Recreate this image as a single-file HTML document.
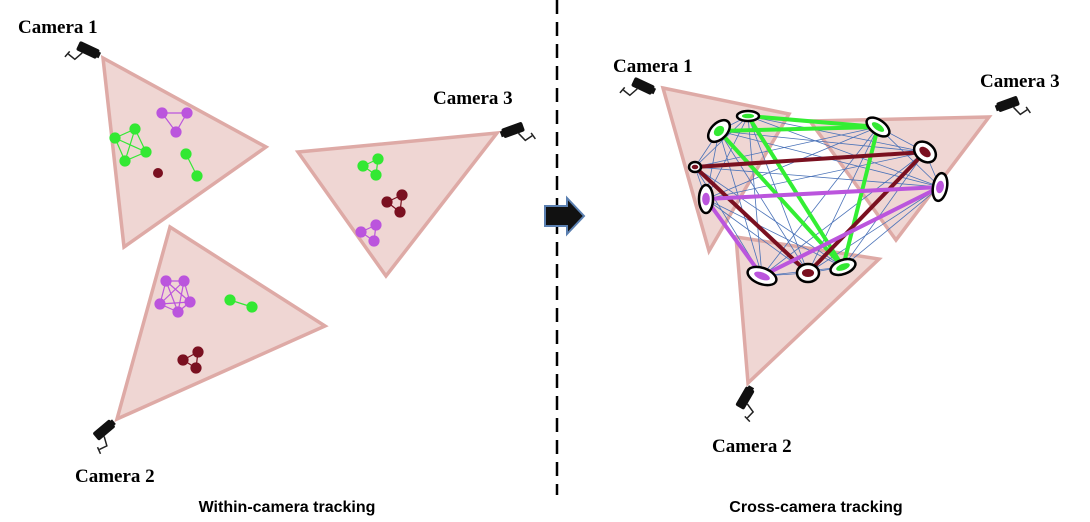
<!DOCTYPE html>
<html><head><meta charset="utf-8"><style>
body{margin:0;background:#fff;}
svg{display:block;}
.cam{font-family:"Liberation Serif",serif;font-weight:bold;font-size:19px;fill:#000;}
.cap{font-family:"Liberation Sans",sans-serif;font-weight:bold;font-size:16px;fill:#000;}
.tri{fill:#efd6d3;stroke:#deaaa6;stroke-width:3.5;stroke-linejoin:miter;}
</style></head><body>
<svg width="1090" height="522" viewBox="0 0 1090 522">
<defs>
<g id="camicon">
<rect x="-11" y="-5" width="22" height="10" rx="2" fill="#111"/>
<rect x="9" y="-3" width="4" height="6" fill="#111"/>
<path d="M-4 5 L-8 14 L-16 12 M-16 9 L-18 16" stroke="#222" stroke-width="1.5" fill="none"/>
</g>
</defs>

<g>
<polygon class="tri" points="103,58 266,147 124,247"/>
<polygon class="tri" points="298,152 497,133 386,276"/>
<polygon class="tri" points="170,227 325,326 117,419"/>
<g transform="translate(88,50) rotate(25)"><use href="#camicon"/></g>
<g transform="translate(513,130) rotate(-20) scale(-1,1)"><use href="#camicon"/></g>
<g transform="translate(104,430) rotate(-40)"><use href="#camicon"/></g>
<text class="cam" x="18" y="33">Camera 1</text>
<text class="cam" x="433" y="104">Camera 3</text>
<text class="cam" x="75" y="482">Camera 2</text>
<g stroke-width="1.2">
<g stroke="#33e833" fill="#33e833">
<line x1="115" y1="138" x2="135" y2="129"/><line x1="115" y1="138" x2="125" y2="161"/><line x1="115" y1="138" x2="146" y2="152"/><line x1="135" y1="129" x2="125" y2="161"/><line x1="135" y1="129" x2="146" y2="152"/><line x1="125" y1="161" x2="146" y2="152"/>
<circle cx="115" cy="138" r="5"/><circle cx="135" cy="129" r="5"/><circle cx="125" cy="161" r="5"/><circle cx="146" cy="152" r="5"/>
<line x1="186" y1="154" x2="197" y2="176"/><circle cx="186" cy="154" r="5"/><circle cx="197" cy="176" r="5"/>
</g>
<g stroke="#bb55dd" fill="#bb55dd">
<line x1="162" y1="113" x2="187" y2="113"/><line x1="162" y1="113" x2="176" y2="132"/><line x1="187" y1="113" x2="176" y2="132"/>
<circle cx="162" cy="113" r="5"/><circle cx="187" cy="113" r="5"/><circle cx="176" cy="132" r="5"/>
</g>
<circle cx="158" cy="173" r="5" fill="#7a1020"/>
<g stroke="#33e833" fill="#33e833">
<line x1="363" y1="166" x2="378" y2="159"/><line x1="363" y1="166" x2="376" y2="175"/><line x1="378" y1="159" x2="376" y2="175"/>
<circle cx="363" cy="166" r="5"/><circle cx="378" cy="159" r="5"/><circle cx="376" cy="175" r="5"/>
</g>
<g stroke="#7a1020" fill="#7a1020">
<line x1="387" y1="202" x2="402" y2="195"/><line x1="387" y1="202" x2="400" y2="212"/><line x1="402" y1="195" x2="400" y2="212"/>
<circle cx="387" cy="202" r="5"/><circle cx="402" cy="195" r="5"/><circle cx="400" cy="212" r="5"/>
</g>
<g stroke="#bb55dd" fill="#bb55dd">
<line x1="361" y1="232" x2="376" y2="225"/><line x1="361" y1="232" x2="374" y2="241"/><line x1="376" y1="225" x2="374" y2="241"/>
<circle cx="361" cy="232" r="5"/><circle cx="376" cy="225" r="5"/><circle cx="374" cy="241" r="5"/>
</g>
<g stroke="#bb55dd" fill="#bb55dd">
<line x1="166" y1="281" x2="184" y2="281"/><line x1="166" y1="281" x2="190" y2="302"/><line x1="166" y1="281" x2="178" y2="312"/><line x1="166" y1="281" x2="160" y2="304"/>
<line x1="184" y1="281" x2="190" y2="302"/><line x1="184" y1="281" x2="178" y2="312"/><line x1="184" y1="281" x2="160" y2="304"/>
<line x1="190" y1="302" x2="178" y2="312"/><line x1="190" y1="302" x2="160" y2="304"/><line x1="178" y1="312" x2="160" y2="304"/>
<circle cx="166" cy="281" r="5"/><circle cx="184" cy="281" r="5"/><circle cx="190" cy="302" r="5"/><circle cx="178" cy="312" r="5"/><circle cx="160" cy="304" r="5"/>
</g>
<g stroke="#33e833" fill="#33e833">
<line x1="230" y1="300" x2="252" y2="307"/><circle cx="230" cy="300" r="5"/><circle cx="252" cy="307" r="5"/>
</g>
<g stroke="#7a1020" fill="#7a1020">
<line x1="183" y1="360" x2="198" y2="352"/><line x1="183" y1="360" x2="196" y2="368"/><line x1="198" y1="352" x2="196" y2="368"/>
<circle cx="183" cy="360" r="5"/><circle cx="198" cy="352" r="5"/><circle cx="196" cy="368" r="5"/>
</g>
</g>
<text class="cap" x="287" y="512" text-anchor="middle">Within-camera tracking</text>
</g>

<line x1="557" y1="0" x2="557" y2="495" stroke="#000" stroke-width="2.5" stroke-dasharray="14,8"/>
<polygon points="545,206 567,206 567,198 584,216 567,234 567,226 545,226" fill="#111" stroke="#5a7fb0" stroke-width="2"/>

<g>
<polygon class="tri" points="663,88 789,114 709,251"/>
<polygon class="tri" points="810,121 989,117 896,240"/>
<polygon class="tri" points="736,237 879,259 748,383"/>
<g transform="translate(643,86) rotate(25)"><use href="#camicon"/></g>
<g transform="translate(1008,104) rotate(-20) scale(-1,1)"><use href="#camicon"/></g>
<g transform="translate(745,398) rotate(-60)"><use href="#camicon"/></g>
<text class="cam" x="613" y="72">Camera 1</text>
<text class="cam" x="980" y="87">Camera 3</text>
<text class="cam" x="712" y="452">Camera 2</text>
<g id="graph"></g>
<text class="cap" x="816" y="512" text-anchor="middle">Cross-camera tracking</text>
</g>
</svg>
<script>
const nodeNames=["A","B","C","D","E","F","G","H","I","J"];
const nodeX=[719,748,878,925,940,695,706,762,808,843];
const nodeY=[131,116,127,152,187,167,199,276,273,267];
const nodeColor=["#33e833","#33e833","#33e833","#7a1020","#bb55dd","#7a1020","#bb55dd","#bb55dd","#7a1020","#33e833"];
const nodeRx=[8,11,13,12,7,6,7,15,11,13];
const nodeRy=[13,5,7,9,14,5,14,8,9,7];
const nodeRot=[45,0,35,40,10,0,0,20,0,-20];
const greenEdges=[[0,2],[1,2],[0,9],[1,9],[2,9]];
const maroonEdges=[[5,3],[5,8],[3,8]];
const purpleEdges=[[6,4],[6,7],[7,4]];
const g=document.getElementById('graph');
const NS='http://www.w3.org/2000/svg';
function line(a,b,color,w,name){
  const l=document.createElementNS(NS,'line');
  l.setAttribute('x1',nodeX[a]);l.setAttribute('y1',nodeY[a]);
  l.setAttribute('x2',nodeX[b]);l.setAttribute('y2',nodeY[b]);
  l.setAttribute('stroke',color);l.setAttribute('stroke-width',w);
  
  
  g.appendChild(l);
}
for(let i=0;i<nodeX.length;i++)for(let j=i+1;j<nodeX.length;j++){
  line(i,j,'#4a72b8',0.8,'affinity-edge');
}
greenEdges.forEach(e=>line(e[0],e[1],'#33ee33',4,'green-track-edge'));
maroonEdges.forEach(e=>line(e[0],e[1],'#7a1020',4,'maroon-track-edge'));
purpleEdges.forEach(e=>line(e[0],e[1],'#bb55dd',4,'purple-track-edge'));
for(let i=0;i<nodeX.length;i++){
  const tr='rotate('+nodeRot[i]+' '+nodeX[i]+' '+nodeY[i]+')';
  const el=document.createElementNS(NS,'ellipse');
  el.setAttribute('cx',nodeX[i]);el.setAttribute('cy',nodeY[i]);
  el.setAttribute('rx',nodeRx[i]);el.setAttribute('ry',nodeRy[i]);
  el.setAttribute('transform',tr);
  el.setAttribute('fill','#fff');
  el.setAttribute('stroke','#000');el.setAttribute('stroke-width','2.5');
  
  
  g.appendChild(el);
  const inner=document.createElementNS(NS,'ellipse');
  inner.setAttribute('cx',nodeX[i]);inner.setAttribute('cy',nodeY[i]);
  inner.setAttribute('rx',nodeRx[i]*0.55);inner.setAttribute('ry',nodeRy[i]*0.45);
  inner.setAttribute('transform',tr);
  inner.setAttribute('fill',nodeColor[i]);
  
  
  g.appendChild(inner);
}
</script>
</body></html>
